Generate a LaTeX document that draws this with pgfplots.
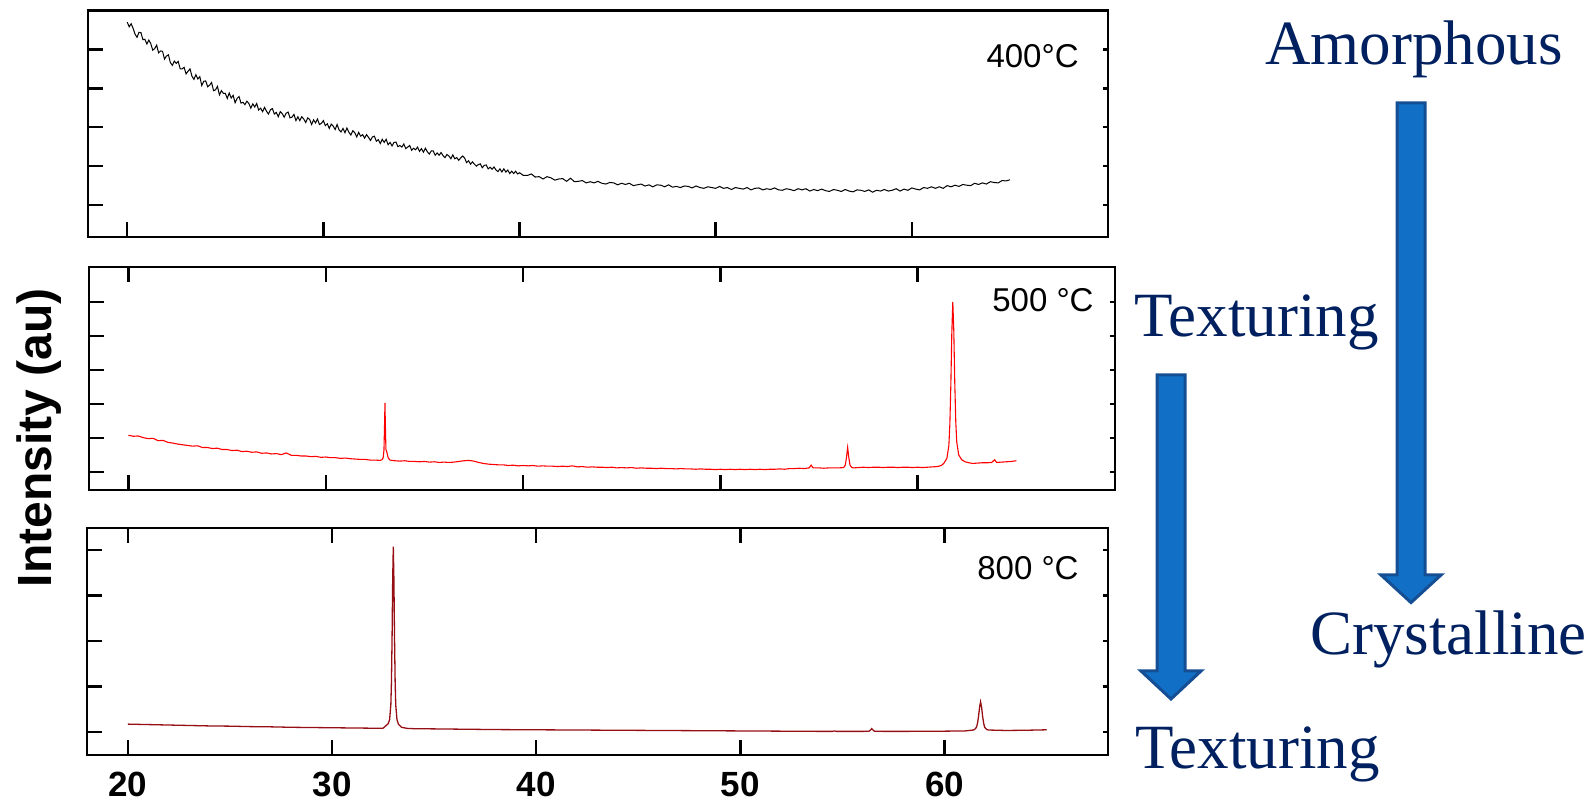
\documentclass[border=0pt]{standalone}
\usepackage{pgfplots}
\pgfplotsset{compat=1.18}
\usepackage{pgfplotstable}
\usepackage{fontspec}
\setmainfont{Liberation Sans}
\newfontfamily\serifnav{Liberation Serif}
\definecolor{navy}{RGB}{0,32,96}
\definecolor{arrfill}{RGB}{17,112,198}
\definecolor{arrdraw}{RGB}{22,78,148}
\definecolor{darkred}{RGB}{150,15,20}

\pgfplotstableread[row sep=\\]{
x y\\
20.0 5.70\\ 20.1 5.58\\ 20.2 5.66\\ 20.3 5.54\\ 20.4 5.39\\ 20.5 5.31\\ 20.6 5.44\\ 20.7 5.43\\ 20.8 5.25\\ 20.9 5.26\\
21.0 5.14\\ 21.1 5.24\\ 21.2 5.15\\ 21.3 4.98\\ 21.4 5.02\\ 21.5 5.11\\ 21.6 4.91\\ 21.7 4.96\\ 21.8 4.95\\ 21.9 4.75\\
22.0 4.83\\ 22.1 4.86\\ 22.2 4.66\\ 22.3 4.59\\ 22.4 4.70\\ 22.5 4.64\\ 22.6 4.69\\ 22.7 4.50\\ 22.8 4.50\\ 22.9 4.54\\
23.0 4.37\\ 23.1 4.44\\ 23.2 4.50\\ 23.3 4.31\\ 23.4 4.23\\ 23.5 4.35\\ 23.6 4.24\\ 23.7 4.30\\ 23.8 4.07\\ 23.9 4.18\\
24.0 4.19\\ 24.1 4.04\\ 24.2 4.08\\ 24.3 4.15\\ 24.4 3.94\\ 24.5 3.96\\ 24.6 4.05\\ 24.7 3.83\\ 24.8 3.94\\ 24.9 3.87\\
25.0 3.87\\ 25.1 3.74\\ 25.2 3.88\\ 25.3 3.75\\ 25.4 3.82\\ 25.5 3.63\\ 25.6 3.74\\ 25.7 3.79\\ 25.8 3.62\\ 25.9 3.64\\
26.0 3.58\\ 26.1 3.67\\ 26.2 3.61\\ 26.3 3.49\\ 26.4 3.60\\ 26.5 3.52\\ 26.6 3.61\\ 26.7 3.44\\ 26.8 3.49\\ 26.9 3.40\\
27.0 3.51\\ 27.1 3.41\\ 27.2 3.34\\ 27.3 3.45\\ 27.4 3.48\\ 27.5 3.34\\ 27.6 3.38\\ 27.7 3.27\\ 27.8 3.40\\ 27.9 3.35\\
28.0 3.26\\ 28.1 3.36\\ 28.2 3.39\\ 28.3 3.24\\ 28.4 3.26\\ 28.5 3.33\\ 28.6 3.17\\ 28.7 3.27\\ 28.8 3.17\\ 28.9 3.27\\
29.0 3.21\\ 29.1 3.12\\ 29.2 3.24\\ 29.3 3.20\\ 29.4 3.07\\ 29.5 3.19\\ 29.6 3.11\\ 29.7 3.21\\ 29.8 3.07\\ 29.9 3.10\\
30.0 3.17\\ 30.1 3.04\\ 30.2 3.09\\ 30.3 2.97\\ 30.4 3.08\\ 30.5 3.03\\ 30.6 2.94\\ 30.7 3.07\\ 30.8 2.93\\ 30.9 2.88\\
31.0 2.97\\ 31.1 2.86\\ 31.2 2.98\\ 31.3 2.87\\ 31.4 2.80\\ 31.5 2.91\\ 31.6 2.86\\ 31.7 2.75\\ 31.8 2.87\\ 31.9 2.77\\
32.0 2.81\\ 32.1 2.72\\ 32.2 2.81\\ 32.3 2.74\\ 32.4 2.66\\ 32.5 2.75\\ 32.6 2.77\\ 32.7 2.64\\ 32.8 2.68\\ 32.9 2.58\\
33.0 2.69\\ 33.1 2.61\\ 33.2 2.69\\ 33.3 2.55\\ 33.4 2.61\\ 33.5 2.52\\ 33.6 2.61\\ 33.7 2.62\\ 33.8 2.50\\ 33.9 2.53\\
34.0 2.49\\ 34.1 2.57\\ 34.2 2.45\\ 34.3 2.49\\ 34.4 2.53\\ 34.5 2.41\\ 34.6 2.46\\ 34.7 2.42\\ 34.8 2.49\\ 34.9 2.38\\
35.0 2.45\\ 35.1 2.36\\ 35.2 2.46\\ 35.3 2.37\\ 35.4 2.31\\ 35.5 2.39\\ 35.6 2.39\\ 35.7 2.28\\ 35.8 2.34\\ 35.9 2.28\\
36.0 2.35\\ 36.1 2.27\\ 36.2 2.22\\ 36.3 2.30\\ 36.4 2.26\\ 36.5 2.19\\ 36.6 2.29\\ 36.7 2.19\\ 36.8 2.22\\ 36.9 2.15\\
37.0 2.21\\ 37.1 2.26\\ 37.2 2.21\\ 37.3 2.09\\ 37.4 2.14\\ 37.5 2.05\\ 37.6 2.11\\ 37.7 2.05\\ 37.8 2.00\\ 37.9 2.04\\
38.0 2.06\\ 38.1 1.96\\ 38.2 2.02\\ 38.3 2.03\\ 38.4 1.93\\ 38.5 1.97\\ 38.6 1.92\\ 38.7 1.98\\ 38.8 1.90\\ 38.9 1.86\\
39.0 1.93\\ 39.1 1.85\\ 39.2 1.93\\ 39.3 1.85\\ 39.4 1.90\\ 39.5 1.81\\ 39.6 1.87\\ 39.7 1.81\\ 39.8 1.87\\ 39.9 1.80\\
40.0 1.83\\ 40.2 1.76\\ 40.4 1.76\\ 40.6 1.80\\ 40.8 1.72\\
41.0 1.73\\ 41.2 1.67\\ 41.4 1.73\\ 41.6 1.70\\ 41.8 1.64\\
42.0 1.67\\ 42.2 1.68\\ 42.4 1.61\\ 42.6 1.69\\ 42.8 1.60\\
43.0 1.61\\ 43.2 1.63\\ 43.4 1.57\\ 43.6 1.60\\ 43.8 1.57\\
44.0 1.61\\ 44.2 1.56\\ 44.4 1.54\\ 44.6 1.58\\ 44.8 1.57\\
45.0 1.52\\ 45.2 1.56\\ 45.4 1.53\\ 45.6 1.56\\ 45.8 1.50\\
46.0 1.52\\ 46.2 1.54\\ 46.4 1.49\\ 46.6 1.52\\ 46.8 1.47\\
47.0 1.52\\ 47.2 1.51\\ 47.4 1.47\\ 47.6 1.52\\ 47.8 1.46\\
48.0 1.48\\ 48.2 1.45\\ 48.4 1.49\\ 48.6 1.48\\ 48.8 1.44\\
49.0 1.49\\ 49.2 1.45\\ 49.4 1.43\\ 49.6 1.47\\ 49.8 1.45\\
50.0 1.43\\ 50.2 1.48\\ 50.4 1.43\\ 50.6 1.45\\ 50.8 1.40\\
51.0 1.45\\ 51.2 1.43\\ 51.4 1.41\\ 51.6 1.45\\ 51.8 1.39\\
52.0 1.43\\ 52.2 1.44\\ 52.4 1.39\\ 52.6 1.42\\ 52.8 1.40\\
53.0 1.44\\ 53.2 1.39\\ 53.4 1.38\\ 53.6 1.42\\ 53.8 1.40\\
54.0 1.37\\ 54.2 1.42\\ 54.4 1.39\\ 54.6 1.42\\ 54.8 1.36\\
55.0 1.40\\ 55.2 1.37\\ 55.4 1.41\\ 55.6 1.37\\ 55.8 1.35\\
56.0 1.40\\ 56.2 1.38\\ 56.4 1.35\\ 56.6 1.40\\ 56.8 1.36\\
57.0 1.34\\ 57.2 1.39\\ 57.4 1.38\\ 57.6 1.35\\ 57.8 1.39\\
58.0 1.33\\ 58.2 1.38\\ 58.4 1.36\\ 58.6 1.40\\ 58.8 1.36\\
59.0 1.38\\ 59.2 1.42\\ 59.4 1.36\\ 59.6 1.41\\ 59.8 1.38\\
60.0 1.44\\ 60.2 1.41\\ 60.4 1.39\\ 60.6 1.45\\ 60.8 1.43\\
61.0 1.47\\ 61.2 1.43\\ 61.4 1.47\\ 61.6 1.43\\ 61.8 1.50\\
62.0 1.47\\ 62.2 1.51\\ 62.4 1.48\\ 62.6 1.53\\ 62.8 1.51\\
63.0 1.50\\ 63.2 1.56\\ 63.4 1.53\\ 63.6 1.57\\ 63.8 1.54\\
64.0 1.60\\ 64.2 1.58\\ 64.4 1.57\\ 64.6 1.63\\ 64.8 1.62\\
65.0 1.65\\
}\toptable

\pgfplotstableread[row sep=\\]{
x y\\
20.00 2.08\\ 20.25 2.05\\ 20.50 2.06\\ 20.75 2.01\\ 21.00 1.98\\
21.25 1.99\\ 21.50 1.92\\ 21.75 1.93\\ 22.00 1.87\\ 22.25 1.85\\
22.50 1.82\\ 22.75 1.80\\ 23.00 1.78\\ 23.25 1.76\\ 23.50 1.77\\
23.75 1.72\\ 24.00 1.72\\ 24.25 1.69\\ 24.50 1.70\\ 24.75 1.66\\
25.00 1.66\\ 25.25 1.63\\ 25.50 1.64\\ 25.75 1.60\\ 26.00 1.61\\
26.25 1.58\\ 26.50 1.59\\ 26.75 1.55\\ 27.00 1.56\\ 27.25 1.53\\
27.50 1.54\\ 27.75 1.51\\ 28.00 1.56\\ 28.25 1.49\\ 28.50 1.49\\
28.75 1.47\\ 29.00 1.47\\ 29.25 1.45\\ 29.50 1.46\\ 29.75 1.43\\
30.00 1.44\\ 30.25 1.42\\ 30.50 1.42\\ 30.75 1.40\\ 31.00 1.41\\
31.25 1.39\\ 31.50 1.38\\ 31.75 1.37\\ 32.00 1.37\\ 32.25 1.35\\
32.50 1.35\\ 32.75 1.34\\ 32.85 1.36\\ 32.91 1.42\\ 32.95 1.65\\
32.98 2.40\\ 33.00 3.03\\ 33.02 2.40\\ 33.05 1.65\\ 33.08 1.62\\
33.11 1.55\\ 33.16 1.42\\ 33.25 1.35\\ 33.50 1.33\\ 33.75 1.32\\
34.00 1.33\\ 34.25 1.31\\ 34.50 1.31\\ 34.75 1.30\\ 35.00 1.31\\
35.25 1.29\\ 35.50 1.30\\ 35.75 1.28\\ 36.00 1.29\\ 36.25 1.28\\
36.50 1.29\\ 36.75 1.31\\ 37.00 1.33\\ 37.25 1.34\\ 37.50 1.32\\
37.75 1.28\\ 38.00 1.25\\ 38.25 1.23\\ 38.50 1.22\\ 38.75 1.21\\
39.00 1.21\\ 39.25 1.19\\ 39.50 1.20\\ 39.75 1.18\\ 40.00 1.19\\
40.25 1.18\\ 40.50 1.19\\ 40.75 1.17\\ 41.00 1.18\\ 41.25 1.17\\
41.50 1.17\\ 41.75 1.16\\ 42.00 1.17\\ 42.25 1.16\\ 42.50 1.18\\
42.75 1.15\\ 43.00 1.16\\ 43.25 1.14\\ 43.50 1.15\\ 43.75 1.14\\
44.00 1.14\\ 44.25 1.13\\ 44.50 1.14\\ 44.75 1.12\\ 45.00 1.13\\
45.25 1.12\\ 45.50 1.13\\ 45.75 1.11\\ 46.00 1.12\\ 46.25 1.11\\
46.50 1.11\\ 46.75 1.10\\ 47.00 1.11\\ 47.25 1.10\\ 47.50 1.10\\
47.75 1.09\\ 48.00 1.10\\ 48.25 1.09\\ 48.50 1.09\\ 48.75 1.08\\
49.00 1.09\\ 49.25 1.08\\ 49.50 1.08\\ 49.75 1.07\\ 50.00 1.08\\
50.25 1.07\\ 50.50 1.08\\ 50.75 1.07\\ 51.00 1.08\\ 51.25 1.07\\
51.50 1.08\\ 51.75 1.07\\ 52.00 1.08\\ 52.25 1.07\\ 52.50 1.08\\
52.75 1.08\\ 53.00 1.09\\ 53.25 1.08\\ 53.50 1.10\\ 53.75 1.10\\
54.00 1.11\\ 54.25 1.10\\ 54.50 1.12\\ 54.60 1.20\\ 54.70 1.12\\
55.00 1.12\\ 55.25 1.11\\ 55.50 1.12\\ 55.75 1.12\\ 56.00 1.12\\
56.25 1.13\\ 56.33 1.20\\ 56.39 1.42\\ 56.45 1.72\\ 56.51 1.42\\
56.57 1.20\\ 56.65 1.14\\ 56.75 1.12\\ 57.00 1.13\\ 57.25 1.14\\
57.50 1.13\\ 57.75 1.14\\ 58.00 1.14\\ 58.25 1.13\\ 58.50 1.14\\
58.75 1.14\\ 59.00 1.13\\ 59.25 1.14\\ 59.50 1.14\\ 59.75 1.13\\
60.00 1.14\\ 60.25 1.13\\ 60.50 1.14\\ 60.75 1.15\\ 61.00 1.16\\
61.20 1.19\\ 61.33 1.26\\ 61.48 1.40\\ 61.58 1.78\\ 61.63 2.40\\
61.68 3.55\\ 61.73 5.10\\ 61.78 6.00\\ 61.83 5.15\\ 61.88 3.62\\
61.93 2.48\\ 61.98 1.88\\ 62.08 1.50\\ 62.23 1.36\\ 62.40 1.30\\
62.60 1.27\\ 62.80 1.25\\ 63.00 1.26\\ 63.25 1.27\\ 63.50 1.27\\
63.75 1.28\\ 63.90 1.36\\ 64.00 1.28\\ 64.25 1.29\\ 64.50 1.30\\
64.75 1.31\\ 65.00 1.33\\
}\midtable

\pgfplotstableread[row sep=\\]{
x y\\
20.0 1.170\\ 21.0 1.160\\ 22.0 1.150\\ 23.0 1.140\\ 24.0 1.130\\
25.0 1.125\\ 26.0 1.115\\ 27.0 1.110\\ 28.0 1.100\\ 29.0 1.095\\
30.0 1.090\\ 31.0 1.085\\ 32.0 1.080\\ 32.5 1.080\\ 32.75 1.18\\
32.82 1.27\\ 32.88 1.60\\ 32.91 2.11\\ 32.94 3.07\\ 32.97 4.35\\
33.00 5.08\\ 33.03 4.35\\ 33.06 3.07\\ 33.09 2.11\\ 33.12 1.59\\
33.18 1.27\\ 33.25 1.17\\ 33.40 1.10\\ 33.70 1.075\\ 34.0 1.070\\
35.0 1.065\\ 36.0 1.060\\ 38.0 1.050\\ 40.0 1.045\\ 42.0 1.040\\
44.0 1.035\\ 46.0 1.030\\ 48.0 1.025\\ 50.0 1.020\\ 52.0 1.015\\
54.0 1.010\\ 54.5 1.010\\ 54.6 1.020\\ 54.7 1.010\\ 55.0 1.010\\
56.0 1.010\\ 56.30 1.015\\ 56.37 1.040\\ 56.43 1.070\\ 56.49 1.040\\
56.56 1.015\\ 57.0 1.010\\ 58.0 1.010\\ 60.0 1.015\\ 61.0 1.020\\
61.40 1.040\\ 61.46 1.050\\ 61.56 1.100\\ 61.61 1.190\\ 61.66 1.340\\
61.71 1.540\\ 61.76 1.660\\ 61.81 1.540\\ 61.86 1.340\\ 61.91 1.190\\
61.96 1.100\\ 62.06 1.050\\ 62.15 1.040\\ 63.0 1.030\\ 64.0 1.035\\
65.0 1.045\\
}\bottable

\pgfplotsset{
  panel/.style={scale only axis, anchor=south west, xmin=18, xmax=70,
    axis line style={line width=1.3pt},
    every tick/.style={black, line width=1.2pt},
    major tick length=7.5pt, tick align=inside,
    xtick={20,30,40,50,60}, xticklabels={}, yticklabels={},
    ytick pos=left},
  rtick/.style={scale only axis, anchor=south west, xmin=18, xmax=70,
    hide x axis, axis y line*=right,
    axis line style={line width=1.3pt},
    every tick/.style={black, line width=1.2pt},
    major tick length=2.5pt, tick align=inside, yticklabels={}},
}

\begin{document}
\begin{tikzpicture}
\path[use as bounding box] (0,0) rectangle (797.5pt,403pt);

% top panel 400 C
\begin{axis}[panel, at={(44pt,284.5pt)}, width=510pt, height=113.25pt,
  ymin=0.18, ymax=6, ytick={1,2,3,4,5}, xtick pos=bottom]
\addplot[black, line width=0.5pt] table[x=x,y=y] {\toptable};
\end{axis}
\begin{axis}[rtick, at={(44pt,284.5pt)}, width=510pt, height=113.25pt,
  ymin=0.18, ymax=6, ytick={1,2,3,4,5}]
\end{axis}

% middle panel 500 C
\begin{axis}[panel, at={(44.5pt,158pt)}, width=513pt, height=111.5pt,
  ymin=0.47, ymax=7.03, ytick={1,2,3,4,5,6}]
\addplot[red, line width=0.55pt] table[x=x,y=y] {\midtable};
\end{axis}
\begin{axis}[rtick, at={(44.5pt,158pt)}, width=513pt, height=111.5pt,
  ymin=0.47, ymax=7.03, ytick={1,2,3,4,5,6}]
\end{axis}

% bottom panel 800 C
\begin{axis}[panel, at={(43.5pt,25.5pt)}, width=510.5pt, height=113.5pt,
  xmax=68, ymin=0.49, ymax=5.49, ytick={1,2,3,4,5},
  xticklabels={20,30,40,50,60},
  xticklabel style={font=\fontsize{17.5}{20}\selectfont\bfseries, yshift=-5pt}]
\addplot[darkred, line width=0.65pt] table[x=x,y=y] {\bottable};
\end{axis}
\begin{axis}[rtick, at={(43.5pt,25.5pt)}, width=510.5pt, height=113.5pt,
  xmax=68, ymin=0.49, ymax=5.49, ytick={1,2,3,4,5}]
\end{axis}

% panel labels
\node[anchor=east, inner sep=0pt, font=\fontsize{16.5}{20}\selectfont] at (539.5pt,375pt) {400°C};
\node[anchor=east, inner sep=0pt, font=\fontsize{16.5}{20}\selectfont] at (547pt,253pt) {500 °C};
\node[anchor=east, inner sep=0pt, font=\fontsize{16.5}{20}\selectfont] at (539.5pt,119pt) {800 °C};

% y label
\node[rotate=90, inner sep=0pt, font=\fontsize{24}{28}\selectfont\bfseries] at (19.5pt,184pt) {Intensity (au)};

% arrows
\filldraw[fill=arrfill, draw=arrdraw, line width=1.5pt, line join=miter]
  (698.5pt,351.5pt) -- (712.5pt,351.5pt) -- (712.5pt,115.5pt) -- (720.5pt,115.5pt)
  -- (705.5pt,101.7pt) -- (690.5pt,115.5pt) -- (698.5pt,115.5pt) -- cycle;
\filldraw[fill=arrfill, draw=arrdraw, line width=1.5pt, line join=miter]
  (578.5pt,215.5pt) -- (592.5pt,215.5pt) -- (592.5pt,67.5pt) -- (600.5pt,67.5pt)
  -- (585.5pt,53.5pt) -- (570.5pt,67.5pt) -- (578.5pt,67.5pt) -- cycle;

% right texts
\begin{scope}[every node/.style={anchor=base west, inner sep=0pt, text=navy,
    font=\serifnav\fontsize{31.5}{36}\selectfont}]
\node at (632.5pt,370.85pt) {Amorphous};
\node at (567pt,234.5pt) {Texturing};
\node at (655pt,75.5pt) {Crystalline};
\node at (567.5pt,18.75pt) {Texturing};
\end{scope}
\end{tikzpicture}
\end{document}
